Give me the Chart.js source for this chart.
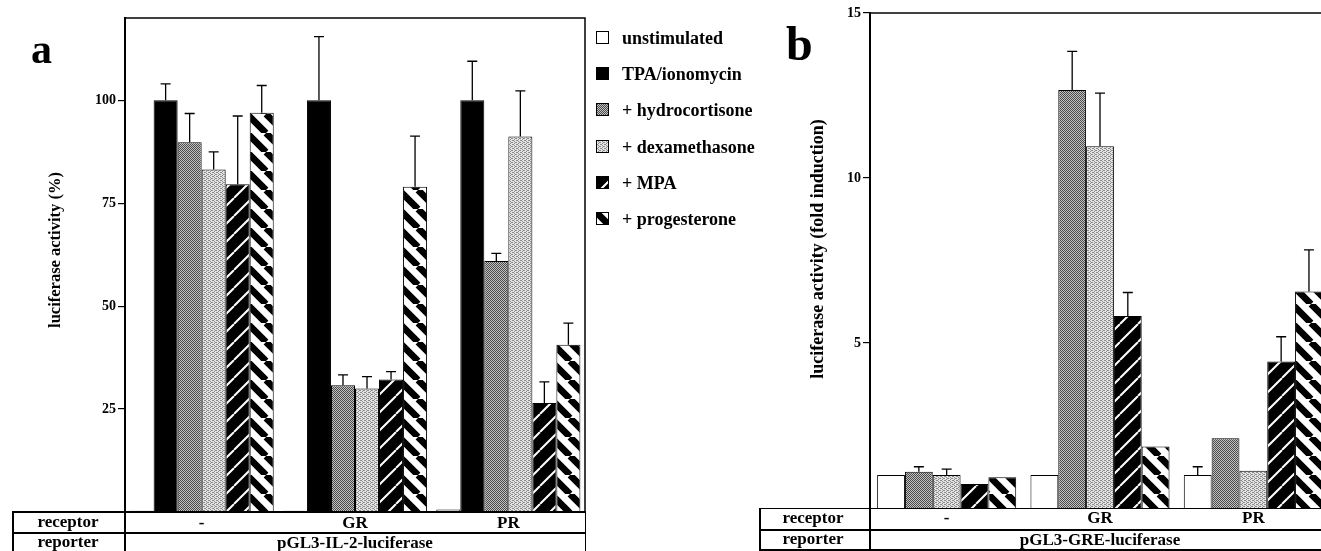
<!DOCTYPE html>
<html><head><meta charset="utf-8">
<script src="https://cdn.jsdelivr.net/npm/chart.js@4.4.0/dist/chart.umd.min.js"></script>
<style>
html,body{margin:0;padding:0;background:#fff;}
body{width:1321px;height:551px;overflow:hidden;position:relative;font-family:"Liberation Serif","Times New Roman",serif;font-weight:bold;color:#000;}
canvas{position:absolute;}
.t{position:absolute;white-space:nowrap;line-height:1;}
.ln{position:absolute;background:#000;}
.rot{position:absolute;white-space:nowrap;line-height:1;transform:translate(-50%,-50%) rotate(-90deg);}
</style></head>
<body>
<canvas id="ca" width="760" height="551" style="left:0;top:0"></canvas>
<canvas id="cb" width="580" height="551" style="left:760px;top:0"></canvas>
<div id="overlay"></div>
<script>
// ---------- data ----------
const categories = ['-', 'GR', 'PR'];
const seriesNames = ['unstimulated', 'TPA/ionomycin', '+ hydrocortisone', '+ dexamethasone', '+ MPA', '+ progesterone'];
const ticksA = [25, 50, 75, 100];
const ticksB = [5, 10, 15];

// panel a: pGL3-IL-2-luciferase, luciferase activity (%)
const aUnstim = [0.3, 0.3, 0.6];
const aTPA    = [100, 100, 100];
const aHydro  = [89.8, 30.8, 61.0];
const aDexa   = [83.2, 30.0, 91.2];
const aMPA    = [79.6, 32.2, 26.5];
const aProg   = [97.0, 79.0, 40.6];
const aUnstimErr = [null, null, null];
const aTPAErr    = [4.0, 15.5, 9.5];
const aHydroErr  = [7.0, 2.5, 1.8];
const aDexaErr   = [4.3, 2.9, 11.1];
const aMPAErr    = [16.6, 1.9, 5.1];
const aProgErr   = [6.6, 12.3, 5.3];

// panel b: pGL3-GRE-luciferase, fold induction
const bUnstim = [1.0, 1.0, 1.0];
const bHydro  = [1.1, 12.67, 2.11];
const bDexa   = [1.0, 10.96, 1.13];
const bMPA    = [0.73, 5.82, 4.44];
const bProg   = [0.93, 1.86, 6.56];
const bUnstimErr = [null, null, 0.25];
const bHydroErr  = [0.15, 1.17, null];
const bDexaErr   = [0.18, 1.61, null];
const bMPAErr    = [null, 0.71, 0.75];
const bProgErr   = [null, null, 1.26];

const FONT = '"Liberation Serif", "Times New Roman", serif';

// ---------- patterns ----------
function makePattern(kind){
  if(kind==='white') return '#ffffff';
  if(kind==='black') return '#000000';
  const c=document.createElement('canvas');
  let ctx;
  if(kind==='dark'){
    c.width=c.height=4; ctx=c.getContext('2d');
    ctx.fillStyle='#c2c2c2'; ctx.fillRect(0,0,4,4);
    ctx.fillStyle='#4a4a4a';
    for(let y=0;y<4;y++)for(let x=0;x<4;x++) if((x+y)%2===0) ctx.fillRect(x,y,1,1);
  } else if(kind==='light'){
    c.width=c.height=4; ctx=c.getContext('2d');
    ctx.fillStyle='#e4e4e4'; ctx.fillRect(0,0,4,4);
    ctx.fillStyle='#8a8a8a';
    [[0,0],[2,1],[0,2],[2,3],[1,0],[3,2]].forEach(p=>ctx.fillRect(p[0],p[1],1,1));
  } else if(kind==='mpa'){
    const P=18; c.width=c.height=P; ctx=c.getContext('2d');
    ctx.fillStyle='#000'; ctx.fillRect(0,0,P,P);
    ctx.strokeStyle='#fff'; ctx.lineWidth=2;
    ctx.beginPath();
    for(let k=-1;k<=1;k++){ ctx.moveTo(k*P,P); ctx.lineTo(k*P+P,0); }
    ctx.stroke();
  } else if(kind==='prog'){
    const P=19; c.width=c.height=P; ctx=c.getContext('2d');
    ctx.fillStyle='#fff'; ctx.fillRect(0,0,P,P);
    ctx.strokeStyle='#000'; ctx.lineWidth=P/Math.SQRT2/2;
    ctx.beginPath();
    for(let k=-1;k<=1;k++){ ctx.moveTo(k*P,0); ctx.lineTo(k*P+P,P); }
    ctx.stroke();
  }
  return c.getContext('2d').createPattern(c,'repeat');
}
const fills = ['white','black','dark','light','mpa','prog'].map(makePattern);

// ---------- plugins ----------
const errorBars = {
  id:'errorBars',
  afterDatasetsDraw(chart){
    const ctx=chart.ctx, y=chart.scales.y;
    chart.data.datasets.forEach((ds,di)=>{
      const meta=chart.getDatasetMeta(di);
      (ds.errors||[]).forEach((e,i)=>{
        if(e==null) return;
        const x=meta.data[i].x;
        const top=y.getPixelForValue(ds.data[i]);
        const end=y.getPixelForValue(ds.data[i]+e);
        ctx.save(); ctx.strokeStyle='#000'; ctx.lineWidth=1.3;
        ctx.beginPath(); ctx.moveTo(x,top); ctx.lineTo(x,end);
        ctx.moveTo(x-5,end); ctx.lineTo(x+5,end); ctx.stroke(); ctx.restore();
      });
    });
  }
};
const frame = {
  id:'frame',
  afterDraw(chart, args, opts){
    const ctx=chart.ctx, a=chart.chartArea;
    ctx.save(); ctx.strokeStyle='#000'; ctx.lineWidth=1.5; ctx.beginPath();
    ctx.moveTo(a.left, a.top);
    if(opts.right){ ctx.lineTo(a.right, a.top); ctx.lineTo(a.right, a.bottom); }
    else ctx.lineTo(chart.width, a.top);
    ctx.stroke(); ctx.restore();
  }
};

function ds(label, data, errors, fill){
  return {label, data, errors, backgroundColor: fill, borderColor:'#000', borderWidth:1, borderSkipped:'start'};
}

function makeChart(id, datasets, yMax, tickVals, cfg){
  return new Chart(document.getElementById(id), {
    type:'bar',
    data:{labels:categories, datasets},
    options:{
      responsive:false, animation:false, devicePixelRatio:1,
      layout:{padding:{left:0, top:cfg.top, right:cfg.right, bottom:0}},
      plugins:{legend:{display:false}, tooltip:{enabled:false}, frame:{right:cfg.frameRight}},
      datasets:{bar:{barPercentage:1, categoryPercentage:cfg.catPct}},
      scales:{
        x:{grid:{display:false, drawTicks:false}, border:{display:false},
           ticks:{color:'#000', font:{family:FONT, size:17, weight:'bold'}, padding:cfg.xPad, maxRotation:0, autoSkip:false},
           afterFit(s){ s.height=cfg.xH; }},
        y:{min:0, max:yMax,
           grid:{drawOnChartArea:false, drawTicks:true, tickLength:7, color:'#000', lineWidth:1.2},
           border:{display:true, color:'#000', width:2},
           ticks:{color:'#000', font:{family:FONT, size:14, weight:'bold'}, padding:2},
           afterBuildTicks(s){ s.ticks = tickVals.map(v=>({value:v})); },
           afterFit(s){ s.width=cfg.yW; }}
      }
    },
    plugins:[errorBars, frame]
  });
}

makeChart('ca', [
  ds(seriesNames[0], aUnstim, aUnstimErr, fills[0]),
  ds(seriesNames[1], aTPA, aTPAErr, fills[1]),
  ds(seriesNames[2], aHydro, aHydroErr, fills[2]),
  ds(seriesNames[3], aDexa, aDexaErr, fills[3]),
  ds(seriesNames[4], aMPA, aMPAErr, fills[4]),
  ds(seriesNames[5], aProg, aProgErr, fills[5])
], 120, ticksA, {top:18, right:175, yW:125, xH:39, catPct:0.94, frameRight:true, xPad:1});

makeChart('cb', [
  ds(seriesNames[0], bUnstim, bUnstimErr, fills[0]),
  ds(seriesNames[2], bHydro, bHydroErr, fills[2]),
  ds(seriesNames[3], bDexa, bDexaErr, fills[3]),
  ds(seriesNames[4], bMPA, bMPAErr, fills[4]),
  ds(seriesNames[5], bProg, bProgErr, fills[5])
], 15, ticksB, {top:13, right:10, yW:110, xH:43, catPct:0.907, frameRight:false, xPad:0});

// ---------- overlay: text, legend, tables ----------
const ov=document.getElementById('overlay');
function text(str, x, baseline, fs, align){
  const d=document.createElement('div'); d.className='t'; d.textContent=str;
  d.style.fontSize=fs+'px'; d.style.top=(baseline-0.8375*fs)+'px';
  if(align==='center'){ d.style.left=x+'px'; d.style.transform='translateX(-50%)'; }
  else d.style.left=x+'px';
  ov.appendChild(d);
}
function line(x,y,w,h){
  const d=document.createElement('div'); d.className='ln';
  Object.assign(d.style,{left:x+'px',top:y+'px',width:w+'px',height:h+'px'}); ov.appendChild(d);
}
function rot(str, cx, cy, fs){
  const d=document.createElement('div'); d.className='rot'; d.textContent=str;
  d.style.fontSize=fs+'px';
  d.style.left=cx+'px'; d.style.top=cy+'px'; ov.appendChild(d);
}

// panel letters
text('a', 31, 63, 42);
text('b', 786, 60, 48);

// axis titles
rot('luciferase activity (%)', 55, 250, 16.5);
rot('luciferase activity (fold induction)', 817, 249, 18);

// legend
seriesNames.forEach((name,i)=>{
  const c=document.createElement('canvas'); c.width=13; c.height=13;
  c.style.left='596px'; c.style.top=(31+36.2*i)+'px';
  const g=c.getContext('2d'); g.fillStyle=fills[i]; g.fillRect(0,0,13,13);
  g.strokeStyle='#000'; g.lineWidth=1; g.strokeRect(0.5,0.5,12,12);
  ov.appendChild(c);
  text(name, 622, 44+36.2*i, 18);
});

// table a
line(12,511,574,1.5); line(12,532,574,1.5);
line(12,511,1.5,40); line(124,511,2,40); line(584.5,511,1.5,40);
text('receptor', 68, 527, 17, 'center');
text('reporter', 68, 547.5, 17, 'center');
text('pGL3-IL-2-luciferase', 355, 548, 17, 'center');

// table b
line(759,507.5,562,1.5); line(759,529,562,1.5); line(759,548.5,562,2);
line(759,507.5,1.5,43); line(869,507.5,2,43);
text('receptor', 813, 523, 17, 'center');
text('reporter', 813, 544.5, 17, 'center');
text('pGL3-GRE-luciferase', 1100, 545, 17, 'center');
</script>
</body></html>
